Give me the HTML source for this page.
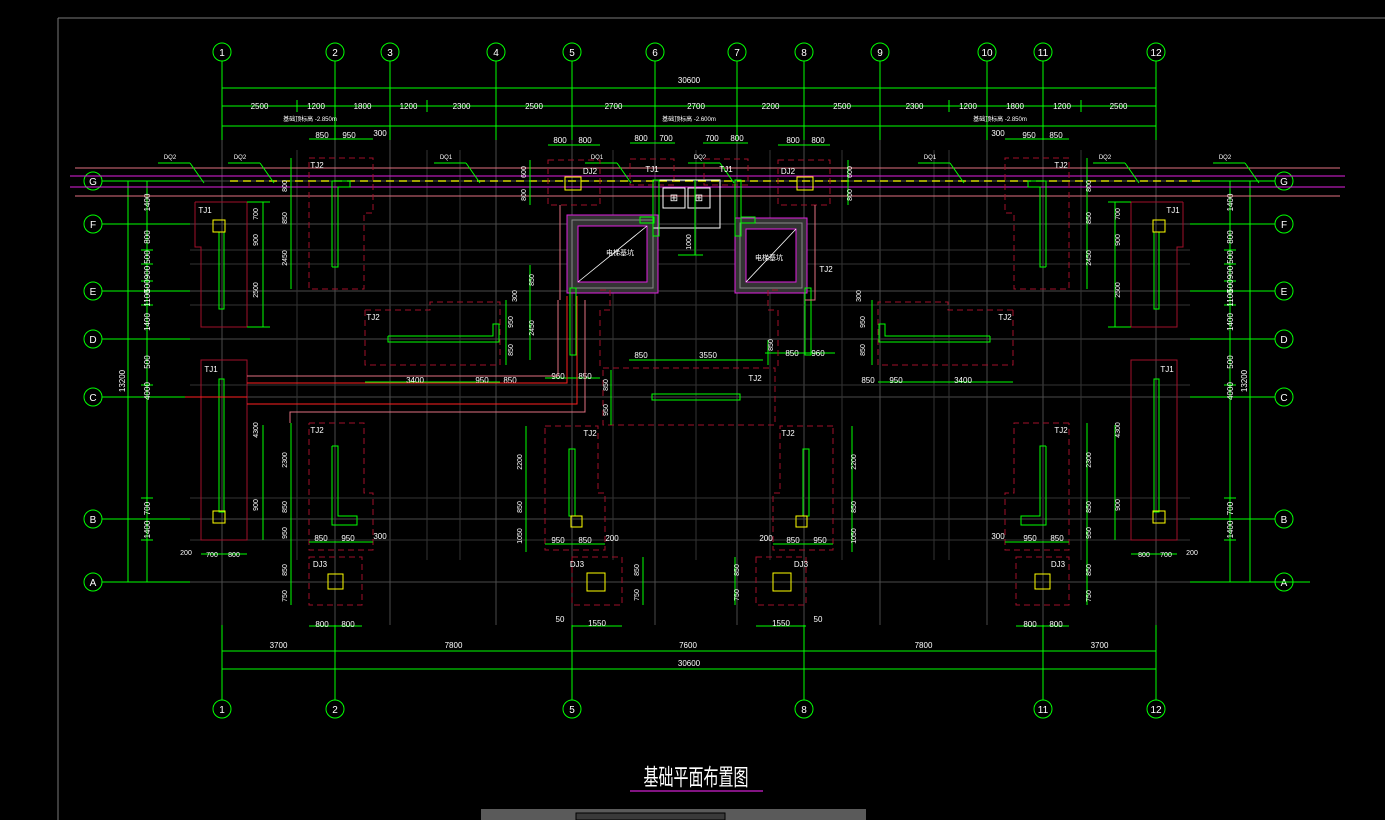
<!DOCTYPE html>
<html><head><meta charset="utf-8"><style>
html,body{margin:0;padding:0;background:#000;width:1385px;height:820px;overflow:hidden}
svg{display:block}
text{font-family:"Liberation Sans",sans-serif}
</style></head><body>
<svg id="s" width="1385" height="820" viewBox="0 0 1385 820" xmlns="http://www.w3.org/2000/svg">
<g id="g"></g>
<text x="696" y="785" fill="#fff" font-size="20" text-anchor="middle" font-family="Liberation Sans, Noto Sans CJK SC, sans-serif" transform="translate(696 785) scale(0.75 1.15) translate(-696 -785)">基础平面布置图</text>
<line x1="630" y1="791" x2="763" y2="791" stroke="#d020d0" stroke-width="1.2"/>
<rect x="481" y="809" width="385" height="11" fill="#5a5a5a"/>
<rect x="576" y="813" width="149" height="7" fill="#3a3a3a" stroke="#000"/>
</svg>
<script>
var G=document.getElementById('g'),NS='http://www.w3.org/2000/svg',C=689;
function el(t,a,txt){var e=document.createElementNS(NS,t);for(var k in a)e.setAttribute(k,a[k]);if(txt!=null)e.textContent=txt;G.appendChild(e);return e}
function L(x1,y1,x2,y2,c,w,d){var a={x1:x1,y1:y1,x2:x2,y2:y2,stroke:c,'stroke-width':w||1};if(d)a['stroke-dasharray']=d;el('line',a)}
function R(x,y,w,h,c,d,f){var a={x:x,y:y,width:w,height:h,stroke:c,fill:f||'none','stroke-width':1};if(d)a['stroke-dasharray']=d;el('rect',a)}
function T(x,y,s,c,sz,rot){var a={x:x,y:y,fill:c||'#fff','font-size':sz||8,'text-anchor':'middle'};if(rot)a.transform='rotate(-90 '+x+' '+y+')';el('text',a,s)}
function M(x){return 2*C-x}
// mirrored helpers
function R2(x,y,w,h,c,d,f){R(x,y,w,h,c,d,f);R(M(x+w),y,w,h,c,d,f)}
function L2(x1,y1,x2,y2,c,w,d){L(x1,y1,x2,y2,c,w,d);L(M(x1),y1,M(x2),y2,c,w,d)}
function T2(x,y,s,c,sz,rot){T(x,y,s,c,sz,rot);T(M(x),y,s,c,sz,rot)}
var gray='#4a4a4a',grn='#00ff00',red='#a0102a',pink='#e07080',yel='#ffff00',mag='#e020e0';
// frame
L(58,18,1385,18,'#777',1);L(58,18,58,820,'#777',1);
// grid
var cols={1:222,2:335,3:390,4:496,5:572,6:655,7:737,8:804,9:880,10:987,11:1043,12:1156};
var rows={G:181,F:224,E:291,D:339,C:397,B:519,A:582};
for(var k in cols){L(cols[k],140,cols[k],625,gray,1)}
for(var k in rows){L(180,rows[k],1200,rows[k],gray,1)}
[297,427,949,1081,613,696,770,842,460,934].forEach(function(x){L(x,150,x,560,'#333',1)});
[250,264,305,385,498,540].forEach(function(y){L(190,y,1190,y,'#333',1)});
// column bubbles
for(var k in cols){var x=cols[k];L(x,61,x,140,grn,1);el('circle',{cx:x,cy:52,r:9,stroke:grn,fill:'none'});T(x,56,k,'#fff',10)}
[1,2,5,8,11,12].forEach(function(k){var x=cols[k];L(x,625,x,700,grn,1);el('circle',{cx:x,cy:709,r:9,stroke:grn,fill:'none'});T(x,713,k,'#fff',10)});
for(var k in rows){var y=rows[k];L(102,y,190,y,grn,1);L(1190,y,1275,y,grn,1);
 el('circle',{cx:93,cy:y,r:9,stroke:grn,fill:'none'});T(93,y+4,k,'#fff',10);
 el('circle',{cx:1284,cy:y,r:9,stroke:grn,fill:'none'});T(1284,y+4,k,'#fff',10)}
// top dims
L(222,88,1156,88,grn);T(689,83,'30600');L(222,80,222,96,grn);L(1156,80,1156,96,grn);
var tk=[222,297,335,390,427,496,572,655,737,804,880,949,987,1043,1081,1156];
var tl=['2500','1200','1800','1200','2300','2500','2700','2700','2200','2500','2300','1200','1800','1200','2500'];
L(222,106,1156,106,grn);tk.forEach(function(x){L(x,100,x,112,grn)});
for(var i=0;i<tl.length;i++)T((tk[i]+tk[i+1])/2,109,tl[i]);
L(222,126,1156,126,grn);L(222,120,222,134,grn);L(1156,120,1156,134,grn);
T(310,121,'基础顶标高 -2.850m','#fff',6);T(689,121,'基础顶标高 -2.600m','#fff',6);T(1000,121,'基础顶标高 -2.850m','#fff',6);
// bottom dims
var bk=[222,335,572,804,1043,1156],bl=['3700','7800','7600','7800','3700'];
L(222,651,1156,651,grn);bk.forEach(function(x){L(x,645,x,657,grn)});
for(var i=0;i<5;i++)T((bk[i]+bk[i+1])/2,648,bl[i]);
L(222,669,1156,669,grn);L(222,663,222,675,grn);L(1156,663,1156,675,grn);T(689,666,'30600');
// side dims
var sk=[181,224,250,264,281,291,305,339,385,397,498,519,540,582],sl=['1400','800','500','900','500','1100','1400','500','4000','700','','1400'];
sl=['1400','800','500','900','500','1100','1400','500','4000','','700','1400'];
[[147,128],[1230,1250]].forEach(function(p){L(p[0],181,p[0],582,grn);L(p[1],181,p[1],582,grn);
 sk.forEach(function(y){L(p[0]-6,y,p[0]+6,y,grn)});
 for(var i=0;i<sl.length&&i<sk.length-1;i++)if(sl[i])T(p[0]+3,(sk[i]+sk[i+1])/2,sl[i],'#fff',8,1);
 T(p[1]-3,381,'13200','#fff',8,1);L(p[1]-6,582,p[1]+60,582,grn)});
L(128,582,180,582,grn);
// G beam lines
L(75,168,1340,168,pink);L(75,196,1340,196,pink);L(70,176,1345,176,mag);L(70,187,1345,187,mag);
L(230,181,1200,181,yel,1.2,'8,5');
[[170,'DQ2'],[240,'DQ2'],[446,'DQ1'],[597,'DQ1'],[700,'DQ2'],[930,'DQ1'],[1105,'DQ2'],[1225,'DQ2']].forEach(function(p){T(p[0],159,p[1],'#fff',6);L(p[0]-12,163,p[0]+20,163,grn);L(p[0]+20,163,p[0]+34,183,grn)});
// left TJ1 top
function TJ1(x,y1,y2){el('polyline',{points:[x,y1,x+52,y1,x+52,y2,x+6,y2,x+6,y2-80,x,y2-80,x,y1].join(','),stroke:red,fill:'none'});}
TJ1(195,202,327);el('polyline',{points:[M(195),202,M(247),202,M(247),327,M(201),327,M(201),247,M(195),247,M(195),202].join(','),stroke:red,fill:'none'});
R2(219,232,5,77,grn);R2(213,220,12,12,yel);T2(205,213,'TJ1');
R2(201,360,46,180,red);R2(219,379,5,133,grn);R2(213,511,12,12,yel);T2(211,372,'TJ1');
L2(247,202,270,202,grn);L2(263,202,263,327,grn);L2(247,327,270,327,grn);T2(258,214,'700','#fff',7,1);T2(258,240,'900','#fff',7,1);T2(258,290,'2500','#fff',7,1);
L2(201,554,247,554,grn);T2(186,555,'200','#fff',7);T2(212,557,'700','#fff',7);T2(234,557,'800','#fff',7);
L2(263,425,263,540,grn);T2(258,430,'4300','#fff',7,1);T2(258,505,'900','#fff',7,1);
// TJ2 column 2 top
el('polyline',{points:[309,158,373,158,373,213,364,213,364,289,309,289,309,158].join(','),stroke:red,fill:'none','stroke-dasharray':'6,4'});
el('polyline',{points:[M(309),158,M(373),158,M(373),213,M(364),213,M(364),289,M(309),289,M(309),158].join(','),stroke:red,fill:'none','stroke-dasharray':'6,4'});
el('polyline',{points:[332,267,338,267,338,187,350,187,350,181,332,181,332,267].join(','),stroke:grn,fill:'none'});
el('polyline',{points:[M(332),267,M(338),267,M(338),187,M(350),187,M(350),181,M(332),181,M(332),267].join(','),stroke:grn,fill:'none'});
T2(317,168,'TJ2');L2(309,139,373,139,grn);T2(322,138,'850');T2(349,138,'950');T2(380,136,'300');
L2(291,158,291,289,grn);T2(287,186,'800','#fff',7,1);T2(287,218,'850','#fff',7,1);T2(287,258,'2450','#fff',7,1);
// TJ2 D area
el('polyline',{points:[365,310,430,310,430,302,500,302,500,365,365,365,365,310].join(','),stroke:red,fill:'none','stroke-dasharray':'6,4'});
el('polyline',{points:[M(365),310,M(430),310,M(430),302,M(500),302,M(500),365,M(365),365,M(365),310].join(','),stroke:red,fill:'none','stroke-dasharray':'6,4'});
el('polyline',{points:[388,336,493,336,493,324,499,324,499,342,388,342,388,336].join(','),stroke:grn,fill:'none'});
el('polyline',{points:[M(388),336,M(493),336,M(493),324,M(499),324,M(499),342,M(388),342,M(388),336].join(','),stroke:grn,fill:'none'});
T2(373,320,'TJ2');L2(365,382,500,382,grn);T2(415,383,'3400');T2(482,383,'950');T2(510,383,'850');
L2(506,300,506,365,grn);T2(513,322,'950','#fff',7,1);T2(513,350,'850','#fff',7,1);T2(517,296,'300','#fff',7,1);
// TJ2 col2 bottom
el('polyline',{points:[309,423,364,423,364,493,373,493,373,550,309,550,309,423].join(','),stroke:red,fill:'none','stroke-dasharray':'6,4'});
el('polyline',{points:[M(309),423,M(364),423,M(364),493,M(373),493,M(373),550,M(309),550,M(309),423].join(','),stroke:red,fill:'none','stroke-dasharray':'6,4'});
el('polyline',{points:[332,446,338,446,338,516,357,516,357,525,332,525,332,446].join(','),stroke:grn,fill:'none'});
el('polyline',{points:[M(332),446,M(338),446,M(338),516,M(357),516,M(357),525,M(332),525,M(332),446].join(','),stroke:grn,fill:'none'});
T2(317,433,'TJ2');L2(309,542,373,542,grn);T2(321,541,'850');T2(348,541,'950');T2(380,539,'300');
L2(291,423,291,605,grn);T2(287,460,'2300','#fff',7,1);T2(287,507,'850','#fff',7,1);T2(287,533,'950','#fff',7,1);T2(287,570,'850','#fff',7,1);T2(287,596,'750','#fff',7,1);
// TJ2 col5 bottom
el('polyline',{points:[545,426,598,426,598,493,605,493,605,550,545,550,545,426].join(','),stroke:red,fill:'none','stroke-dasharray':'6,4'});
el('polyline',{points:[M(545),426,M(598),426,M(598),493,M(605),493,M(605),550,M(545),550,M(545),426].join(','),stroke:red,fill:'none','stroke-dasharray':'6,4'});
R2(569,449,6,67,grn);R2(571,516,11,11,yel);T2(590,436,'TJ2');
L2(526,426,526,552,grn);T2(522,462,'2200','#fff',7,1);T2(522,507,'850','#fff',7,1);T2(522,536,'1050','#fff',7,1);
L2(545,544,605,544,grn);T2(558,543,'950');T2(585,543,'850');T2(612,541,'200');
// DJ3
R2(309,557,53,48,red,'6,4');R2(328,574,15,15,yel);T2(320,567,'DJ3');L2(309,626,362,626,grn);T2(322,627,'800');T2(348,627,'800');
R2(572,557,50,48,red,'6,4');R2(587,573,18,18,yel);T2(577,567,'DJ3');L2(572,626,622,626,grn);T2(597,626,'1550');T2(560,622,'50');
L2(643,557,643,605,grn);T2(639,570,'850','#fff',7,1);T2(639,595,'750','#fff',7,1);
// DJ2 top col5
R2(548,160,52,45,red,'6,4');R2(565,177,16,13,yel);T2(590,174,'DJ2');
L2(548,145,600,145,grn);T2(560,143,'800');T2(585,143,'800');L2(530,160,530,205,grn);T2(526,172,'600','#fff',7,1);T2(526,195,'800','#fff',7,1);
L2(630,143,675,143,grn);T2(641,141,'800');T2(666,141,'700');R2(630,159,44,26,red,'6,4');T2(652,172,'TJ1');
// elevator / stair boxes
function hbox(x,y,w,h){R(x,y,w,h,mag,null,'#333');R(x+5,y+5,w-10,h-10,'#888',null,'none');R(x+11,y+11,w-22,h-22,mag,null,'#000');L(x+11,y+h-11,x+w-11,y+11,'#fff',0.8)}
hbox(567,215,91,78);hbox(735,218,72,75);
T(620,255,'电梯基坑','#fff',7);T(769,260,'电梯基坑','#fff',7);
R(653,180,67,48,'#fff');R(663,188,22,20,'#fff');R(688,188,22,20,'#fff');T(674,201,'⊞','#fff',10);T(699,201,'⊞','#fff',10);
L(695,180,695,255,grn);L(678,255,703,255,grn);T(691,242,'1000','#fff',7,1);
R(653,180,6,56,grn);R(735,180,6,56,grn);R(640,217,14,6,grn);R(741,217,14,6,grn);
R(570,288,6,67,grn);R(805,288,6,67,grn);
// center
el('polyline',{points:[603,368,775,368,775,425,603,425,603,368].join(','),stroke:red,fill:'none','stroke-dasharray':'6,4'});
R(652,394,88,6,grn);T(755,381,'TJ2');L(629,360,763,360,grn);T(641,358,'850');T(708,358,'3550');
L(611,370,611,425,grn);T(608,385,'850','#fff',7,1);T(608,410,'950','#fff',7,1);
L(765,353,835,353,grn);T(792,356,'850');T(818,356,'960');L(768,340,768,365,grn);
L(530,265,530,360,grn);T(534,280,'850','#fff',7,1);T(534,328,'2450','#fff',7,1);
L(545,378,600,378,grn);T(558,379,'960');T(585,379,'850');
el('polyline',{points:[600,290,610,290,610,310,600,310,600,370].join(','),stroke:red,fill:'none','stroke-dasharray':'6,4'});
el('polyline',{points:[M(600),290,M(610),290,M(610),310,M(600),310,M(600),370].join(','),stroke:red,fill:'none','stroke-dasharray':'6,4'});
// red lines
el('polyline',{points:[567,296,567,383,247,383].join(','),stroke:'#ff2020',fill:'none'});
el('polyline',{points:[577,296,577,404,247,404].join(','),stroke:'#ff2020',fill:'none'});
el('polyline',{points:[558,300,558,376,247,376].join(','),stroke:pink,fill:'none'});
el('polyline',{points:[585,300,585,412,290,412,290,423].join(','),stroke:pink,fill:'none'});
L(185,397,247,397,'#ff2020');
el('polyline',{points:[560,205,560,300].join(','),stroke:pink,fill:'none'});
el('polyline',{points:[815,205,815,300,805,300].join(','),stroke:pink,fill:'none'});
T(826,272,'TJ2');T(773,345,'850','#fff',7,1);
</script>
</body></html>
